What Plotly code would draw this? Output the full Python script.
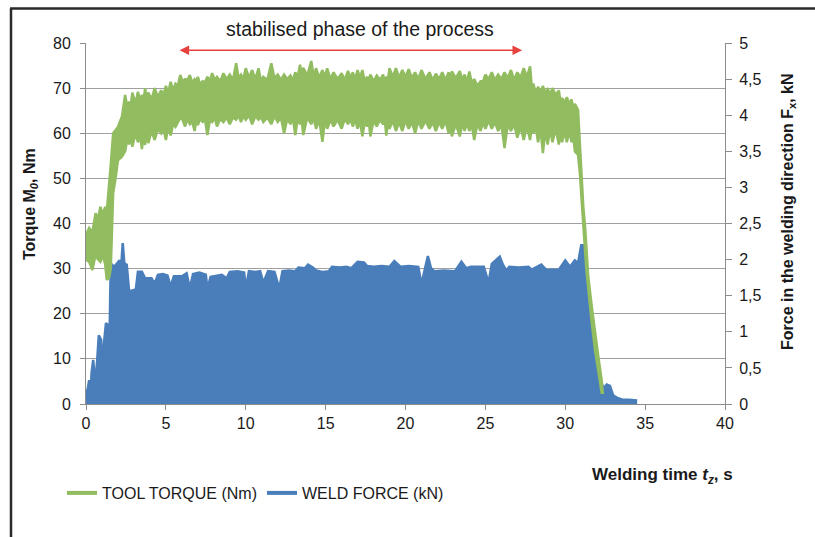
import plotly.graph_objects as go

# ---------------- data ----------------
# Tool torque band (Nm): time, upper envelope, lower envelope
torque_t = [0.0, 0.2, 0.4, 0.6, 0.75, 0.9, 1.05, 1.2, 1.3, 1.45, 1.55, 1.7, 1.85, 2.0,
            2.25, 2.45, 2.7, 2.9, 3.25, 3.5, 3.7, 3.9, 4.3, 4.7, 5.0, 5.3, 5.6, 5.9,
            6.2, 6.5, 6.8, 7.0, 7.3, 7.6, 7.9, 8.2, 8.6, 9.0, 9.4, 9.7, 10.0, 10.4,
            10.8, 11.1, 11.6, 12.0, 12.4, 12.8, 13.1, 13.4, 13.6, 14.1, 14.4, 14.8,
            15.1, 15.5, 16.0, 16.4, 16.7, 17.0, 17.3, 17.6, 17.8, 18.2, 18.6, 18.8,
            19.0, 19.4, 19.8, 20.2, 20.6, 21.0, 21.5, 21.9, 22.3, 22.7, 22.9, 23.4,
            23.7, 24.0, 24.3, 24.7, 25.0, 25.4, 25.8, 26.2, 26.6, 27.0, 27.4, 27.8,
            28.0, 28.3, 28.6, 28.9, 29.2, 29.6, 29.8, 30.1, 30.4, 30.6, 30.8, 30.92,
            31.03, 31.13, 31.24, 31.34, 31.44, 31.66, 31.86, 32.07, 32.28, 32.35]
torque_hi = [37.5, 39, 38, 42.3, 41, 43.7, 42, 43.7, 42.6, 48, 53, 60, 60.7, 61.4,
             63.7, 68.5, 67, 69, 69.2, 68.5, 70, 69, 70, 69.5, 70.5, 71.4, 71, 72.9,
             72, 72.9, 72, 72.5, 71.5, 72.5, 73.3, 72.5, 73.3, 73, 75.5, 73, 74.4, 74,
             74.4, 72.5, 75.5, 73, 73, 72.8, 73.5, 75.2, 74.5, 76, 74.4, 74,
             74.4, 73.5, 73.3, 73.8, 73.5, 74, 74, 72.5, 73, 72.8, 73, 72.5,
             74.4, 74.4, 74, 74.2, 73.5, 74, 73.5, 73.2, 73.5, 73.5, 73.7, 73.8,
             73, 73.7, 72, 71.5, 73, 73.5, 73, 73.5, 74, 73.5, 74.4, 74.8,
             71, 70.3, 70.5, 70, 70, 69.5, 67.8, 68, 67.5, 66.5, 65.2, 57,
             50.4, 43.7, 39.3, 33.4, 28.2, 21.6, 15.7, 10.5, 5.3, 2.7]
torque_lo = [32, 31.5, 29.7, 33, 32, 31.5, 33, 31, 27.5, 28, 30, 46.7, 50, 54,
             54.8, 56, 57.5, 57, 58, 56.5, 57.4, 57.8, 58.5, 60, 58.5, 59.5, 61.4, 63.4,
             61.5, 62, 60.5, 61.8, 62.5, 59.6, 62.5, 61.5, 62.5, 62, 63, 62.5, 63, 62,
             63, 62.5, 62, 62.5, 60, 62, 59.6, 62, 59.6, 62, 61, 58.1,
             61, 61.5, 61, 62, 61.5, 61, 59.3, 61.5, 59.3, 61.5, 62, 59.5,
             61, 60.5, 60.5, 61, 60, 61, 61, 60.5, 61, 60, 59.3, 59.3,
             60.5, 60.5, 58.5, 60.5, 61, 61, 60.5, 56.7, 60.5, 59, 58.5, 58.5,
             60, 58, 55.6, 57.5, 58, 57.5, 58, 58, 58, 56, 55.2, 51,
             45, 39, 34, 29, 25, 18, 12, 7, 2.5, 2.5]

# Notches of the torque band between the spikes (base level of the noise)
notch_t = [2.6, 2.8, 3.1, 3.4, 3.6, 3.8, 4.1, 4.5, 4.85, 5.15, 5.45, 5.75,
           6.05, 6.35, 6.65, 6.9, 7.15, 7.45, 7.75, 8.05, 8.4, 8.8, 9.2, 9.55, 9.85,
           10.2, 10.6, 10.95, 11.35, 11.8, 12.2, 12.6, 12.95, 13.25, 13.5, 13.85,
           14.25, 14.6, 14.95, 15.3, 15.75, 16.2, 16.55, 16.85, 17.15, 17.45, 17.7,
           18.0, 18.4, 18.7, 18.9, 19.2, 19.6, 20.0, 20.4, 20.8, 21.25, 21.7, 22.1,
           22.5, 22.8, 23.15, 23.55, 23.85, 24.15, 24.5, 24.85, 25.2, 25.6, 26.0,
           26.4, 26.8, 27.2, 27.6, 27.9, 28.15, 28.45, 28.75, 29.05, 29.4, 29.7,
           29.95, 30.25, 30.5]
notch_hi = [65.5, 66, 66.5, 67, 67, 67.5, 67.5, 68, 68.5, 69, 69.5, 70.5,
            71.5, 71.8, 71.2, 71.5, 70.8, 71.3, 71.6, 71.8, 71.5, 72, 71.8, 72.2, 72,
            72.3, 72, 71.6, 71.8, 72.2, 71.8, 72, 71.7, 72.4, 72.6, 72.8,
            72.6, 72.3, 72.5, 72, 72, 71.8, 72.2, 72, 72.3, 71.5, 71.8,
            71.5, 71.8, 71.2, 72, 72.5, 72.3, 72.5, 72.2, 72, 72, 71.8, 72,
            71.8, 72, 72.2, 71.8, 71.5, 71, 70.5, 71.5, 72, 71.8, 72,
            72.2, 71.8, 72.3, 72.5, 70.5, 69, 69, 68.8, 68.5, 68.5, 67,
            66.8, 66.5, 65.5]
notch_lo = [59, 59.5, 60, 59.5, 60, 60.5, 60.5, 61, 61, 61.5, 62, 62.5,
            63, 63.2, 62.5, 63, 63.2, 63, 62.8, 63.5, 63.2, 63.5, 63.5, 64, 63.8,
            64, 63.8, 63.6, 63.5, 63.8, 63.5, 63.2, 63.5, 63.2, 63, 63.5,
            63.5, 63, 62.8, 63, 63, 63.2, 63.2, 63, 62.8, 62.5, 62.8,
            62.8, 63, 63, 62.5, 62.8, 62.5, 62.8, 62.5, 62.8, 62.8, 62.5, 62.5,
            62.8, 62, 62, 62.2, 62.2, 62, 62, 62.5, 62.8, 62.5, 62,
            62, 62, 61.5, 61.5, 61.5, 61.5, 61, 60.5, 61, 61, 60.5,
            60.5, 60.5, 59.5]

# Weld force (kN): time, upper envelope
force_t = [0.0, 0.1, 0.2, 0.3, 0.35, 0.45, 0.55, 0.6, 0.7, 0.8, 0.95, 1.05, 1.15, 1.25,
           1.35, 1.45, 1.55, 1.75, 1.95, 2.1, 2.2, 2.3, 2.4, 2.55, 2.7, 3.0, 3.1, 3.25,
           3.5, 3.7, 4.1, 4.3, 4.5, 4.8, 5.1, 5.3, 5.5, 6.0, 6.3, 6.5, 6.7, 7.1, 7.5,
           7.6, 7.8, 8.2, 8.5, 8.8, 9.0, 9.5, 9.9, 10.0, 10.2, 10.6, 10.9, 11.1, 11.4,
           11.8, 12.1, 12.3, 12.7, 13.1, 13.3, 13.7, 13.9, 14.2, 14.4, 14.8, 15.2,
           15.4, 15.9, 16.3, 16.6, 17.0, 17.4, 17.6, 18.0, 18.5, 19.0, 19.3, 19.7,
           20.2, 20.8, 21.0, 21.2, 21.4, 21.6, 21.8, 22.4, 23.1, 23.5, 23.8, 24.1,
           24.9, 25.2, 25.4, 25.9, 26.1, 26.3, 26.5, 27.1, 27.7, 27.9, 28.5, 28.8,
           29.6, 30.0, 30.3, 30.6, 30.8, 31.0, 31.1, 31.3, 31.5, 31.7, 31.9, 32.2,
           32.4, 32.6, 32.8, 33.0, 33.3, 33.6, 34.0, 34.5]
force_hi = [0.15, 0.2, 0.33, 0.2, 0.43, 0.61, 0.35, 0.33, 0.6, 0.95, 0.89, 0.5, 0.9, 1.12,
            1.1, 0.6, 1.95, 1.9, 1.95, 1.99, 1.9, 2.23, 1.95, 1.93, 1.56, 1.58, 1.55, 1.83,
            1.83, 1.74, 1.74, 1.67, 1.79, 1.8, 1.78, 1.63, 1.77, 1.77, 1.81, 1.6, 1.8, 1.82, 1.79,
            1.6, 1.76, 1.78, 1.79, 1.74, 1.83, 1.84, 1.82, 1.6, 1.84, 1.83, 1.84, 1.68, 1.84,
            1.83, 1.6, 1.84, 1.85, 1.84, 1.89, 1.88, 1.93, 1.89, 1.85, 1.83, 1.84,
            1.9, 1.89, 1.9, 1.88, 1.97, 1.96, 1.91, 1.9, 1.91, 1.9, 1.98, 1.9,
            1.91, 1.9, 1.66, 1.88, 2.05, 1.88, 1.84, 1.85, 1.84, 1.97, 1.88, 1.9,
            1.9, 1.68, 1.94, 2.04, 1.93, 1.85, 1.9, 1.89, 1.9, 1.86, 1.93, 1.86,
            1.86, 1.99, 1.9, 1.99, 1.95, 2.2, 2.2, 1.8, 1.35, 0.98, 0.7, 0.33,
            0.22, 0.27, 0.25, 0.12, 0.08, 0.06, 0.06, 0.05]

x_ticks = [0, 5, 10, 15, 20, 25, 30, 35, 40]
torque_ticks = [0, 10, 20, 30, 40, 50, 60, 70, 80]
force_ticks = [0, 0.5, 1, 1.5, 2, 2.5, 3, 3.5, 4, 4.5, 5]

phase_start, phase_end, phase_level = 5.76, 27.3, 78.4

series_names = ["TOOL TORQUE (Nm)", "WELD FORCE (kN)"]

# merge the spike and notch readings in time order
band = sorted(zip(torque_t + notch_t, torque_hi + notch_hi, torque_lo + notch_lo))
band_t = [b[0] for b in band]
band_hi = [b[1] for b in band]
band_lo = [b[2] for b in band]

# ---------------- styling ----------------
GREEN = "#92BC60"
BLUE = "#4A7EBB"
GRID = "#A0A0A0"
AXIS = "#8C8C8C"
FONT = "Liberation Sans, Arial, sans-serif"

W, H = 815, 537
L, R, T, B = 86, 90, 43, 133
PW, PH = W - L - R, H - T - B


def px(xp):
    return (xp - L) / PW


def py(yp):
    return (H - B - yp) / PH


fig = go.Figure()

# weld force area (secondary axis)
fig.add_trace(go.Scatter(
    x=force_t, y=force_hi, yaxis="y2", mode="lines",
    line=dict(color=BLUE, width=2.5), fill="tozeroy", fillcolor=BLUE,
    showlegend=False, hoverinfo="skip"))

# torque band (drawn on an overlay so it sits on top)
fig.add_trace(go.Scatter(
    x=band_t + band_t[::-1], y=band_hi + band_lo[::-1], yaxis="y3",
    mode="lines", line=dict(color=GREEN, width=2.5), fill="toself",
    fillcolor=GREEN, showlegend=False, hoverinfo="skip"))

# legend entries
fig.add_trace(go.Scatter(x=[None], y=[None], mode="lines", name=series_names[0],
                         line=dict(color=GREEN, width=4)))
fig.add_trace(go.Scatter(x=[None], y=[None], mode="lines", name=series_names[1],
                         line=dict(color=BLUE, width=4)))

tickfont = dict(family=FONT, size=16, color="#1a1a1a")

fig.update_layout(
    width=W, height=H,
    margin=dict(l=L, r=R, t=T, b=B),
    paper_bgcolor="white", plot_bgcolor="white",
    separators=",.",
    font=dict(family=FONT, size=16, color="#1a1a1a"),
    xaxis=dict(range=[0, 40], tickvals=x_ticks, showgrid=False, zeroline=False,
               showline=True, linecolor=AXIS, linewidth=1,
               ticks="outside", ticklen=5, tickcolor=AXIS, tickfont=tickfont),
    yaxis=dict(range=[0, 80], tickvals=torque_ticks, showgrid=True, gridcolor=GRID,
               gridwidth=1, zeroline=False, showline=True, linecolor=AXIS,
               ticks="outside", ticklen=5, tickcolor=AXIS, tickfont=tickfont,
               ticklabelstandoff=6),
    yaxis2=dict(range=[0, 5], tickvals=force_ticks, overlaying="y", side="right",
                showgrid=False, zeroline=False, showline=True, linecolor=AXIS,
                ticks="outside", ticklen=6, tickcolor=AXIS, tickfont=tickfont,
                ticklabelstandoff=4),
    yaxis3=dict(range=[0, 80], overlaying="y", visible=False),
    legend=dict(orientation="h", x=px(62), y=py(493), yanchor="middle",
                xanchor="left", font=dict(family=FONT, size=16, color="#1a1a1a"),
                bgcolor="rgba(0,0,0,0)", itemwidth=30, tracegroupgap=0),
    showlegend=True,
)

# frame lines (top and left)
fig.add_shape(type="line", xref="paper", yref="paper", x0=px(10), x1=px(W),
              y0=py(8.5), y1=py(8.5), line=dict(color="#2a2a2a", width=2.5))
fig.add_shape(type="line", xref="paper", yref="paper", x0=px(11), x1=px(11),
              y0=py(8.5), y1=py(H), line=dict(color="#2a2a2a", width=2.5))

# stabilised phase arrow + label
fig.add_annotation(x=phase_end, y=phase_level, ax=phase_start, ay=phase_level,
                   xref="x", yref="y", axref="x", ayref="y", text="",
                   showarrow=True, arrowhead=2, arrowside="end+start",
                   arrowsize=1.2, arrowwidth=1.6, arrowcolor="#E8413D", standoff=0,
                   startstandoff=0)
fig.add_annotation(x=(phase_start + phase_end) / 2 + 0.6, y=py(29), xref="x", yref="paper",
                   text="stabilised phase of the process", showarrow=False,
                   font=dict(family=FONT, size=19.5, color="#1a1a1a"),
                   xanchor="center", yanchor="middle")

# axis titles
fig.add_annotation(x=px(30), y=py(204), xref="paper", yref="paper",
                   text="<b>Torque M<sub><i>0</i></sub>, Nm</b>", textangle=-90,
                   showarrow=False, font=dict(family=FONT, size=16, color="#1a1a1a"),
                   xanchor="center", yanchor="middle")
fig.add_annotation(x=px(788), y=py(212), xref="paper", yref="paper",
                   text="<b>Force in the welding direction F<sub>x</sub>, kN</b>",
                   textangle=-90, showarrow=False,
                   font=dict(family=FONT, size=16, color="#1a1a1a"),
                   xanchor="center", yanchor="middle")
fig.add_annotation(x=px(735), y=py(476), xref="paper", yref="paper",
                   text="<b>Welding time <i>t<sub>z</sub></i>, s</b>",
                   showarrow=False, font=dict(family=FONT, size=17, color="#1a1a1a"),
                   xanchor="right", yanchor="middle")

fig.write_html("out.html")
